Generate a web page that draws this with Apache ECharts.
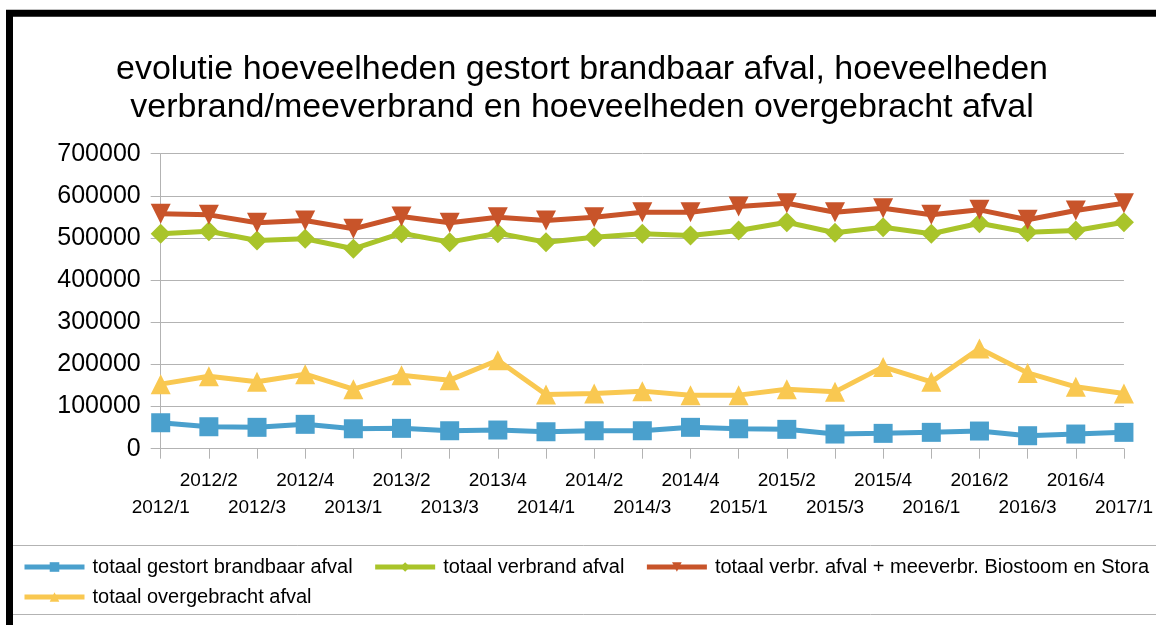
<!DOCTYPE html>
<html>
<head>
<meta charset="utf-8">
<script src="https://cdn.jsdelivr.net/npm/echarts@6/dist/echarts.min.js"></script>
<style>
  html, body { margin: 0; padding: 0; background: #fff; }
  #chart { width: 1156px; height: 625px; }
</style>
</head>
<body>
<div id="chart"></div>
<script>
// kwartalen
var periods = [
  "2012/1", "2012/2", "2012/3", "2012/4",
  "2013/1", "2013/2", "2013/3", "2013/4",
  "2014/1", "2014/2", "2014/3", "2014/4",
  "2015/1", "2015/2", "2015/3", "2015/4",
  "2016/1", "2016/2", "2016/3", "2016/4",
  "2017/1"
];

var gestort = [61600, 52100, 50700, 57800, 47300, 48300, 42600, 44300, 40200, 42600,
  42600, 50700, 47300, 45900, 34800, 36400, 38800, 41900, 30800, 34800, 38800];
var verbrand = [509900, 516100, 494100, 498100, 474400, 511400, 490100, 511400, 490100, 501900,
  509900, 505900, 517800, 537400, 512300, 525600, 509900, 535000, 513700, 517800, 537400];
var verbrandMee = [557300, 554900, 536000, 541400, 521800, 550900, 536000, 549200, 541400, 549200,
  561100, 561100, 574600, 582400, 561100, 570600, 554900, 566800, 543100, 565100, 582400];
var overgebracht = [153200, 172100, 158700, 176800, 141300, 174500, 162600, 210000, 128800, 131200,
  136600, 127100, 127100, 141300, 134900, 194100, 158600, 237700, 179900, 146800, 131200];

var names = [
  "totaal gestort brandbaar afval",
  "totaal verbrand afval",
  "totaal verbr. afval + meeverbr. Biostoom en Stora",
  "totaal overgebracht afval"
];

var font = "'Liberation Sans', Arial, sans-serif";
var grey = "#b3b3b3";

var chart = echarts.init(document.getElementById("chart"));

function lineSeries(name, data, color, symbol, size, rotate) {
  return {
    name: name,
    type: "line",
    data: data,
    symbol: symbol,
    symbolSize: size,
    symbolRotate: rotate || 0,
    showAllSymbol: true,
    animation: false,
    lineStyle: { color: color, width: 5 },
    itemStyle: { color: color },
  };
}

var legendCommon = {
  orient: "horizontal",
  left: 22,
  padding: 0,
  itemWidth: 60,
  itemHeight: 12,
  itemGap: 20,
  lineStyle: { width: 5 },
  textStyle: { fontFamily: font, fontSize: 20, color: "#000", padding: [0, 0, 0, 3] },
};

var option = {
  backgroundColor: "#fff",
  animation: false,
  title: {
    text: "evolutie hoeveelheden gestort brandbaar afval, hoeveelheden\nverbrand/meeverbrand en hoeveelheden overgebracht afval",
    left: 577,
    top: 46,
    textAlign: "center",
    textStyle: {
      fontFamily: font,
      fontSize: 34,
      fontWeight: "normal",
      color: "#000",
      lineHeight: 38,
    },
  },
  graphic: [
    {
      type: "rect",
      shape: { x: 9.5, y: 13.3, width: 1400, height: 900 },
      style: { fill: "none", stroke: "#000", lineWidth: 7 },
      z: 10,
    },
    {
      type: "rect",
      shape: { x: 10.5, y: 545.5, width: 1400, height: 69 },
      style: { fill: "none", stroke: grey, lineWidth: 1 },
      z: 5,
    },
  ],
  legend: [
    Object.assign({}, legendCommon, { top: 557, data: names.slice(0, 3) }),
    Object.assign({}, legendCommon, { top: 587, data: names.slice(3) }),
  ],
  grid: {
    left: 160.7,
    right: 31,
    top: 153.7,
    bottom: 176.3,
    containLabel: false,
  },
  xAxis: {
    type: "category",
    data: periods,
    boundaryGap: false,
    axisLine: { show: true, lineStyle: { color: grey, width: 1 } },
    axisTick: { show: true, length: 10, interval: 0, lineStyle: { color: grey } },
    axisLabel: {
      interval: 0,
      margin: 19,
      fontFamily: font,
      fontSize: 19,
      color: "#000",
      lineHeight: 27,
      formatter: function (value, index) {
        // om en om op twee rijen
        return index % 2 === 0 ? "\n" + value : value;
      },
    },
    splitLine: { show: false },
  },
  yAxis: {
    type: "value",
    min: 0,
    max: 700000,
    interval: 100000,
    axisLine: { show: true, lineStyle: { color: grey, width: 1 } },
    axisTick: { show: true, length: 10, lineStyle: { color: grey } },
    axisLabel: {
      margin: 20,
      fontFamily: font,
      fontSize: 25,
      color: "#000",
      formatter: function (v) { return String(v); },
    },
    splitLine: { show: true, lineStyle: { color: grey, width: 1 } },
  },
  series: [
    lineSeries(names[0], gestort, "#4aa0cd", "rect", 19),
    lineSeries(names[1], verbrand, "#a9c42a", "diamond", 20),
    lineSeries(names[2], verbrandMee, "#c8542a", "triangle", 20, 180),
    lineSeries(names[3], overgebracht, "#f9c851", "triangle", 20),
  ],
};

chart.setOption(option);
</script>
</body>
</html>
